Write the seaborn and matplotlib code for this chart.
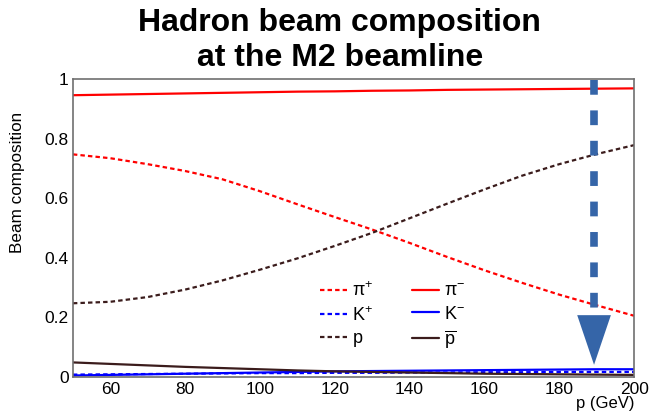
import numpy as np
import pandas as pd
import matplotlib
matplotlib.use("Agg")
import matplotlib.pyplot as plt
import seaborn as sns
from matplotlib.ticker import MultipleLocator

# ---- data ----
momentum = [50, 60, 70, 80, 90, 100, 110, 120, 130, 140, 150, 160, 170, 180, 190, 200]
pi_plus = [0.748, 0.735, 0.715, 0.692, 0.664, 0.624, 0.580, 0.537, 0.495, 0.450, 0.403, 0.358, 0.316, 0.276, 0.240, 0.205]
k_plus = [0.007, 0.008, 0.009, 0.010, 0.011, 0.012, 0.012, 0.013, 0.013, 0.014, 0.014, 0.015, 0.015, 0.016, 0.016, 0.016]
proton = [0.247, 0.252, 0.268, 0.293, 0.324, 0.360, 0.398, 0.440, 0.484, 0.533, 0.582, 0.630, 0.676, 0.715, 0.749, 0.779]
pi_minus = [0.947, 0.949, 0.951, 0.953, 0.955, 0.957, 0.959, 0.960, 0.962, 0.963, 0.965, 0.966, 0.967, 0.968, 0.969, 0.970]
k_minus = [0.004, 0.006, 0.008, 0.010, 0.012, 0.014, 0.016, 0.018, 0.019, 0.020, 0.021, 0.022, 0.023, 0.024, 0.025, 0.025]
antiproton = [0.048, 0.043, 0.038, 0.033, 0.029, 0.025, 0.021, 0.018, 0.016, 0.014, 0.012, 0.010, 0.009, 0.008, 0.007, 0.006]

labels = [r"$\mathrm{\pi}^{+}$", r"$\mathrm{K}^{+}$", r"$\mathrm{p}$",
          r"$\mathrm{\pi}^{-}$", r"$\mathrm{K}^{-}$", r"$\overline{\mathrm{p}}$"]
series = [pi_plus, k_plus, proton, pi_minus, k_minus, antiproton]
colors = ["#ff0000", "#0000ff", "#3b1c1c", "#ff0000", "#0000ff", "#3b1c1c"]
styles = [(0, (2.0, 1.4)), (0, (2.0, 1.4)), (0, (2.0, 1.4)), "-", "-", "-"]

title_lines = ["Hadron beam composition", "at the M2 beamline"]
xlabel = "p (GeV)"
ylabel = "Beam composition"

# ---- plotting ----
sns.set_style("white")
plt.rcParams["font.family"] = ["Liberation Sans", "DejaVu Sans"]
plt.rcParams["mathtext.fontset"] = "custom"
plt.rcParams["mathtext.rm"] = "Liberation Sans"
plt.rcParams["mathtext.it"] = "Liberation Sans"
plt.rcParams["text.color"] = "black"
plt.rcParams["axes.labelcolor"] = "black"

fig = plt.figure(figsize=(6.51, 4.16), dpi=100)
ax = fig.add_axes([0.112, 0.0945, 0.862, 0.7145])

frames = []
for lab, vals in zip(labels, series):
    frames.append(pd.DataFrame({"p": momentum, "frac": vals, "particle": lab}))
df = pd.concat(frames, ignore_index=True)

for lab, col, ls in zip(labels, colors, styles):
    sub = df[df["particle"] == lab]
    sns.lineplot(data=sub, x="p", y="frac", ax=ax, color=col, linestyle=ls,
                 linewidth=1.6, label=lab, legend=False)

ax.set_xlim(50, 200)
ax.set_ylim(0, 1)

# annotation arrow (blue dashed with triangular head)
arrow_x = 189.3
ax.plot([arrow_x, arrow_x], [0.997, 0.225], color="#3565a8", linewidth=5.5,
        linestyle=(0, (1.93, 2.05)), solid_capstyle="butt", zorder=5)
ax.fill([arrow_x - 4.5, arrow_x + 4.5, arrow_x], [0.207, 0.207, 0.04],
        color="#3565a8", zorder=5, linewidth=0)

# ticks
ax.xaxis.set_major_locator(MultipleLocator(20))
ax.xaxis.set_minor_locator(MultipleLocator(5))
ax.yaxis.set_major_locator(MultipleLocator(0.2))
ax.yaxis.set_minor_locator(MultipleLocator(0.05))
ax.tick_params(axis="both", which="both", direction="in", colors="#666666",
               labelcolor="black", labelsize=12.5)
ax.tick_params(axis="y", which="major", length=12, width=1, pad=3)
ax.tick_params(axis="y", which="minor", length=6, width=1)
ax.tick_params(axis="x", which="major", length=6, width=1, pad=4)
ax.tick_params(axis="x", which="minor", length=3, width=1)
ax.yaxis.set_major_formatter(plt.FuncFormatter(lambda v, _: f"{v:g}"))

for s in ax.spines.values():
    s.set_color("#707070")
    s.set_linewidth(1.2)

ax.set_xlabel(xlabel, fontsize=12, loc="right", labelpad=-1)
ax.set_ylabel(ylabel, fontsize=12.3)
ax.yaxis.set_label_coords(-0.0856, 0.654)

leg = ax.legend(ncol=2, frameon=False, fontsize=13, loc="upper left",
                bbox_to_anchor=(0.424, 0.35), borderpad=0, handlelength=1.5,
                columnspacing=2.1, labelspacing=0.3, handletextpad=0.3)

fig.text(0.522, 1 - 31.5 / 416, title_lines[0], ha="center", va="baseline",
         fontsize=23, fontweight="bold")
fig.text(0.522, 1 - 65.5 / 416, title_lines[1], ha="center", va="baseline",
         fontsize=23, fontweight="bold")

fig.savefig("out.png", dpi=100)
